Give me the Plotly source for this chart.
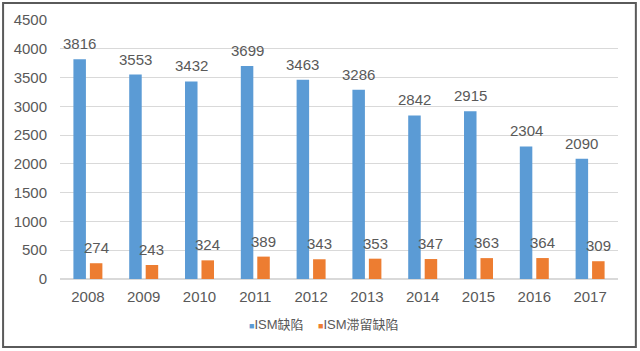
import plotly.graph_objects as go

years = ["2008", "2009", "2010", "2011", "2012", "2013", "2014", "2015", "2016", "2017"]
ism_defects = [3816, 3553, 3432, 3699, 3463, 3286, 2842, 2915, 2304, 2090]
ism_retained = [274, 243, 324, 389, 343, 353, 347, 363, 364, 309]
series_names = ["ISM缺陷", "ISM滞留缺陷"]
colors = ["#5B9BD5", "#ED7D31"]
y_ticks = [0, 500, 1000, 1500, 2000, 2500, 3000, 3500, 4000, 4500]

fig = go.Figure()
for name, vals, col in zip(series_names, [ism_defects, ism_retained], colors):
    fig.add_trace(go.Bar(x=years, y=vals, name=name, showlegend=False,
                         marker=dict(color=col, line=dict(width=0))))

font_main = "Liberation Sans, Arial, Noto Sans CJK SC, sans-serif"
annotations = []
for vals, xs in [(ism_defects, -8.25), (ism_retained, 8.25)]:
    for i, v in enumerate(vals):
        annotations.append(dict(x=i, y=v, text=str(v), showarrow=False, xref="x", yref="y",
                                xanchor="center", yanchor="bottom", xshift=xs, yshift=5,
                                font=dict(size=15, color="#595959", family=font_main)))

# legend drawn as text items
for name, col, px in zip(series_names, colors, [0.336, 0.458]):
    annotations.append(dict(xref="paper", yref="paper", x=px, y=-0.174, xanchor="left", yanchor="middle",
                            showarrow=False,
                            text=f"<span style='color:{col};font-size:9px'>■</span>{name}",
                            font=dict(size=13, color="#595959",
                                      family="Liberation Sans, Noto Sans CJK SC, sans-serif")))

fig.update_layout(
    width=640, height=351,
    margin=dict(l=60, r=22, t=20, b=72),
    paper_bgcolor="white", plot_bgcolor="white",
    barmode="group", bargap=0.41, bargroupgap=0.24,
    font=dict(family=font_main, color="#595959"),
    showlegend=False,
    xaxis=dict(type="category", tickfont=dict(size=15, color="#595959"), showgrid=False,
               showline=False, ticks="", ticklabelstandoff=7),
    yaxis=dict(range=[0, 4500], tickvals=y_ticks, tickfont=dict(size=15, color="#595959"),
               showgrid=True, gridcolor="#D9D9D9", gridwidth=1, zeroline=True,
               zerolinecolor="#D9D9D9", showline=False, ticks="", ticklabelstandoff=12),
    annotations=annotations,
    shapes=[dict(type="rect", xref="paper", yref="paper", x0=-0.102, x1=1.032, y0=-0.2625, y1=1.0656,
                 line=dict(color="#5A5A5A", width=2), fillcolor="rgba(0,0,0,0)", layer="above")],
)

fig.write_html("out.html")
